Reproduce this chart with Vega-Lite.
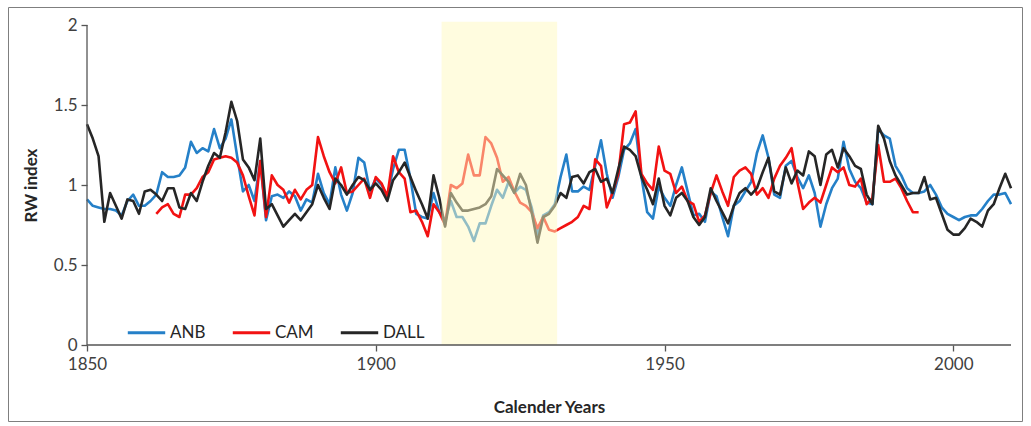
{
"$schema": "https://vega.github.io/schema/vega-lite/v6.json",
"width": 1014, "height": 414,
"autosize": "none",
"padding": {"left": 8, "top": 7, "right": 9, "bottom": 5},
"background": "white",
"config": {"view": {"stroke": "#7f7f7f", "strokeWidth": 1}, "font": "Lato"},
"datasets": {
"shade": [{"start": 1911.4, "end": 1931.4, "bottom": 0, "top": 2.02}],
"series": [
{"year":1850,"series":"ANB","value":0.91},{"year":1851,"series":"ANB","value":0.87},{"year":1852,"series":"ANB","value":0.86},{"year":1853,"series":"ANB","value":0.85},{"year":1854,"series":"ANB","value":0.85},{"year":1855,"series":"ANB","value":0.84},{"year":1856,"series":"ANB","value":0.81},{"year":1857,"series":"ANB","value":0.90},{"year":1858,"series":"ANB","value":0.94},{"year":1859,"series":"ANB","value":0.87},
{"year":1860,"series":"ANB","value":0.87},{"year":1861,"series":"ANB","value":0.90},{"year":1862,"series":"ANB","value":0.94},{"year":1863,"series":"ANB","value":1.08},{"year":1864,"series":"ANB","value":1.05},{"year":1865,"series":"ANB","value":1.05},{"year":1866,"series":"ANB","value":1.06},{"year":1867,"series":"ANB","value":1.11},{"year":1868,"series":"ANB","value":1.27},{"year":1869,"series":"ANB","value":1.20},
{"year":1870,"series":"ANB","value":1.23},{"year":1871,"series":"ANB","value":1.21},{"year":1872,"series":"ANB","value":1.35},{"year":1873,"series":"ANB","value":1.23},{"year":1874,"series":"ANB","value":1.29},{"year":1875,"series":"ANB","value":1.41},{"year":1876,"series":"ANB","value":1.18},{"year":1877,"series":"ANB","value":0.96},{"year":1878,"series":"ANB","value":1.00},{"year":1879,"series":"ANB","value":0.90},
{"year":1880,"series":"ANB","value":1.15},{"year":1881,"series":"ANB","value":0.78},{"year":1882,"series":"ANB","value":0.93},{"year":1883,"series":"ANB","value":0.94},{"year":1884,"series":"ANB","value":0.92},{"year":1885,"series":"ANB","value":0.96},{"year":1886,"series":"ANB","value":0.93},{"year":1887,"series":"ANB","value":0.84},{"year":1888,"series":"ANB","value":0.91},{"year":1889,"series":"ANB","value":0.89},
{"year":1890,"series":"ANB","value":1.07},{"year":1891,"series":"ANB","value":0.95},{"year":1892,"series":"ANB","value":0.88},{"year":1893,"series":"ANB","value":1.11},{"year":1894,"series":"ANB","value":0.94},{"year":1895,"series":"ANB","value":0.84},{"year":1896,"series":"ANB","value":0.95},{"year":1897,"series":"ANB","value":1.17},{"year":1898,"series":"ANB","value":1.14},{"year":1899,"series":"ANB","value":0.96},
{"year":1900,"series":"ANB","value":1.04},{"year":1901,"series":"ANB","value":1.00},{"year":1902,"series":"ANB","value":0.93},{"year":1903,"series":"ANB","value":1.10},{"year":1904,"series":"ANB","value":1.22},{"year":1905,"series":"ANB","value":1.22},{"year":1906,"series":"ANB","value":1.04},{"year":1907,"series":"ANB","value":0.82},{"year":1908,"series":"ANB","value":0.80},{"year":1909,"series":"ANB","value":0.79},
{"year":1910,"series":"ANB","value":0.95},{"year":1911,"series":"ANB","value":0.83},{"year":1912,"series":"ANB","value":0.78},{"year":1913,"series":"ANB","value":0.90},{"year":1914,"series":"ANB","value":0.80},{"year":1915,"series":"ANB","value":0.80},{"year":1916,"series":"ANB","value":0.74},{"year":1917,"series":"ANB","value":0.65},{"year":1918,"series":"ANB","value":0.76},{"year":1919,"series":"ANB","value":0.76},
{"year":1920,"series":"ANB","value":0.87},{"year":1921,"series":"ANB","value":0.97},{"year":1922,"series":"ANB","value":0.92},{"year":1923,"series":"ANB","value":1.02},{"year":1924,"series":"ANB","value":0.95},{"year":1925,"series":"ANB","value":0.99},{"year":1926,"series":"ANB","value":0.97},{"year":1927,"series":"ANB","value":0.86},{"year":1928,"series":"ANB","value":0.69},{"year":1929,"series":"ANB","value":0.81},
{"year":1930,"series":"ANB","value":0.83},{"year":1931,"series":"ANB","value":0.88},{"year":1932,"series":"ANB","value":1.05},{"year":1933,"series":"ANB","value":1.19},{"year":1934,"series":"ANB","value":0.96},{"year":1935,"series":"ANB","value":0.96},{"year":1936,"series":"ANB","value":0.99},{"year":1937,"series":"ANB","value":0.97},{"year":1938,"series":"ANB","value":1.12},{"year":1939,"series":"ANB","value":1.28},
{"year":1940,"series":"ANB","value":1.07},{"year":1941,"series":"ANB","value":0.92},{"year":1942,"series":"ANB","value":1.05},{"year":1943,"series":"ANB","value":1.22},{"year":1944,"series":"ANB","value":1.26},{"year":1945,"series":"ANB","value":1.35},{"year":1946,"series":"ANB","value":1.05},{"year":1947,"series":"ANB","value":0.83},{"year":1948,"series":"ANB","value":0.79},{"year":1949,"series":"ANB","value":0.99},
{"year":1950,"series":"ANB","value":0.92},{"year":1951,"series":"ANB","value":0.87},{"year":1952,"series":"ANB","value":1.00},{"year":1953,"series":"ANB","value":1.11},{"year":1954,"series":"ANB","value":0.96},{"year":1955,"series":"ANB","value":0.81},{"year":1956,"series":"ANB","value":0.82},{"year":1957,"series":"ANB","value":0.77},{"year":1958,"series":"ANB","value":0.96},{"year":1959,"series":"ANB","value":0.93},
{"year":1960,"series":"ANB","value":0.80},{"year":1961,"series":"ANB","value":0.68},{"year":1962,"series":"ANB","value":0.87},{"year":1963,"series":"ANB","value":0.90},{"year":1964,"series":"ANB","value":0.96},{"year":1965,"series":"ANB","value":1.02},{"year":1966,"series":"ANB","value":1.20},{"year":1967,"series":"ANB","value":1.31},{"year":1968,"series":"ANB","value":1.17},{"year":1969,"series":"ANB","value":0.94},
{"year":1970,"series":"ANB","value":0.92},{"year":1971,"series":"ANB","value":1.12},{"year":1972,"series":"ANB","value":1.15},{"year":1973,"series":"ANB","value":1.05},{"year":1974,"series":"ANB","value":0.98},{"year":1975,"series":"ANB","value":1.06},{"year":1976,"series":"ANB","value":0.95},{"year":1977,"series":"ANB","value":0.74},{"year":1978,"series":"ANB","value":0.88},{"year":1979,"series":"ANB","value":0.98},
{"year":1980,"series":"ANB","value":1.04},{"year":1981,"series":"ANB","value":1.27},{"year":1982,"series":"ANB","value":1.10},{"year":1983,"series":"ANB","value":1.02},{"year":1984,"series":"ANB","value":0.98},{"year":1985,"series":"ANB","value":0.89},{"year":1986,"series":"ANB","value":0.88},{"year":1987,"series":"ANB","value":1.35},{"year":1988,"series":"ANB","value":1.31},{"year":1989,"series":"ANB","value":1.29},
{"year":1990,"series":"ANB","value":1.12},{"year":1991,"series":"ANB","value":1.06},{"year":1992,"series":"ANB","value":0.98},{"year":1993,"series":"ANB","value":0.95},{"year":1994,"series":"ANB","value":0.95},{"year":1995,"series":"ANB","value":0.96},{"year":1996,"series":"ANB","value":1.00},{"year":1997,"series":"ANB","value":0.94},{"year":1998,"series":"ANB","value":0.86},{"year":1999,"series":"ANB","value":0.82},
{"year":2000,"series":"ANB","value":0.80},{"year":2001,"series":"ANB","value":0.78},{"year":2002,"series":"ANB","value":0.80},{"year":2003,"series":"ANB","value":0.81},{"year":2004,"series":"ANB","value":0.81},{"year":2005,"series":"ANB","value":0.85},{"year":2006,"series":"ANB","value":0.90},{"year":2007,"series":"ANB","value":0.94},{"year":2008,"series":"ANB","value":0.94},{"year":2009,"series":"ANB","value":0.95},{"year":2010,"series":"ANB","value":0.88},
{"year":1862,"series":"CAM","value":0.82},{"year":1863,"series":"CAM","value":0.86},{"year":1864,"series":"CAM","value":0.88},{"year":1865,"series":"CAM","value":0.82},{"year":1866,"series":"CAM","value":0.80},{"year":1867,"series":"CAM","value":0.94},{"year":1868,"series":"CAM","value":0.94},{"year":1869,"series":"CAM","value":0.98},
{"year":1870,"series":"CAM","value":1.05},{"year":1871,"series":"CAM","value":1.08},{"year":1872,"series":"CAM","value":1.16},{"year":1873,"series":"CAM","value":1.17},{"year":1874,"series":"CAM","value":1.18},{"year":1875,"series":"CAM","value":1.17},{"year":1876,"series":"CAM","value":1.14},{"year":1877,"series":"CAM","value":1.06},{"year":1878,"series":"CAM","value":0.93},{"year":1879,"series":"CAM","value":0.81},
{"year":1880,"series":"CAM","value":1.15},{"year":1881,"series":"CAM","value":0.80},{"year":1882,"series":"CAM","value":1.06},{"year":1883,"series":"CAM","value":1.00},{"year":1884,"series":"CAM","value":0.97},{"year":1885,"series":"CAM","value":0.89},{"year":1886,"series":"CAM","value":0.97},{"year":1887,"series":"CAM","value":0.91},{"year":1888,"series":"CAM","value":0.97},{"year":1889,"series":"CAM","value":1.00},
{"year":1890,"series":"CAM","value":1.30},{"year":1891,"series":"CAM","value":1.18},{"year":1892,"series":"CAM","value":1.08},{"year":1893,"series":"CAM","value":1.01},{"year":1894,"series":"CAM","value":1.11},{"year":1895,"series":"CAM","value":0.95},{"year":1896,"series":"CAM","value":0.96},{"year":1897,"series":"CAM","value":1.00},{"year":1898,"series":"CAM","value":1.04},{"year":1899,"series":"CAM","value":0.92},
{"year":1900,"series":"CAM","value":1.05},{"year":1901,"series":"CAM","value":1.01},{"year":1902,"series":"CAM","value":0.93},{"year":1903,"series":"CAM","value":1.18},{"year":1904,"series":"CAM","value":1.08},{"year":1905,"series":"CAM","value":1.04},{"year":1906,"series":"CAM","value":0.83},{"year":1907,"series":"CAM","value":0.84},{"year":1908,"series":"CAM","value":0.77},{"year":1909,"series":"CAM","value":0.68},
{"year":1910,"series":"CAM","value":0.88},{"year":1911,"series":"CAM","value":0.83},{"year":1912,"series":"CAM","value":0.75},{"year":1913,"series":"CAM","value":1.00},{"year":1914,"series":"CAM","value":0.98},{"year":1915,"series":"CAM","value":1.01},{"year":1916,"series":"CAM","value":1.19},{"year":1917,"series":"CAM","value":1.06},{"year":1918,"series":"CAM","value":1.06},{"year":1919,"series":"CAM","value":1.30},
{"year":1920,"series":"CAM","value":1.26},{"year":1921,"series":"CAM","value":1.17},{"year":1922,"series":"CAM","value":1.02},{"year":1923,"series":"CAM","value":1.05},{"year":1924,"series":"CAM","value":0.96},{"year":1925,"series":"CAM","value":0.89},{"year":1926,"series":"CAM","value":0.87},{"year":1927,"series":"CAM","value":0.83},{"year":1928,"series":"CAM","value":0.73},{"year":1929,"series":"CAM","value":0.80},
{"year":1930,"series":"CAM","value":0.72},{"year":1931,"series":"CAM","value":0.71},{"year":1932,"series":"CAM","value":0.73},{"year":1933,"series":"CAM","value":0.75},{"year":1934,"series":"CAM","value":0.77},{"year":1935,"series":"CAM","value":0.80},{"year":1936,"series":"CAM","value":0.87},{"year":1937,"series":"CAM","value":0.85},{"year":1938,"series":"CAM","value":1.16},{"year":1939,"series":"CAM","value":1.12},
{"year":1940,"series":"CAM","value":0.86},{"year":1941,"series":"CAM","value":0.95},{"year":1942,"series":"CAM","value":1.07},{"year":1943,"series":"CAM","value":1.38},{"year":1944,"series":"CAM","value":1.39},{"year":1945,"series":"CAM","value":1.46},{"year":1946,"series":"CAM","value":1.07},{"year":1947,"series":"CAM","value":1.01},{"year":1948,"series":"CAM","value":0.97},{"year":1949,"series":"CAM","value":1.24},
{"year":1950,"series":"CAM","value":1.09},{"year":1951,"series":"CAM","value":1.07},{"year":1952,"series":"CAM","value":0.95},{"year":1953,"series":"CAM","value":0.99},{"year":1954,"series":"CAM","value":0.90},{"year":1955,"series":"CAM","value":0.88},{"year":1956,"series":"CAM","value":0.77},{"year":1957,"series":"CAM","value":0.81},{"year":1958,"series":"CAM","value":0.95},{"year":1959,"series":"CAM","value":1.06},
{"year":1960,"series":"CAM","value":0.96},{"year":1961,"series":"CAM","value":0.87},{"year":1962,"series":"CAM","value":1.05},{"year":1963,"series":"CAM","value":1.09},{"year":1964,"series":"CAM","value":1.11},{"year":1965,"series":"CAM","value":1.07},{"year":1966,"series":"CAM","value":0.94},{"year":1967,"series":"CAM","value":0.98},{"year":1968,"series":"CAM","value":0.92},{"year":1969,"series":"CAM","value":1.04},
{"year":1970,"series":"CAM","value":1.12},{"year":1971,"series":"CAM","value":1.17},{"year":1972,"series":"CAM","value":1.23},{"year":1973,"series":"CAM","value":1.02},{"year":1974,"series":"CAM","value":0.85},{"year":1975,"series":"CAM","value":0.89},{"year":1976,"series":"CAM","value":0.92},{"year":1977,"series":"CAM","value":0.89},{"year":1978,"series":"CAM","value":1.00},{"year":1979,"series":"CAM","value":1.11},
{"year":1980,"series":"CAM","value":1.08},{"year":1981,"series":"CAM","value":1.11},{"year":1982,"series":"CAM","value":1.00},{"year":1983,"series":"CAM","value":0.99},{"year":1984,"series":"CAM","value":1.04},{"year":1985,"series":"CAM","value":0.88},{"year":1986,"series":"CAM","value":0.92},{"year":1987,"series":"CAM","value":1.25},{"year":1988,"series":"CAM","value":1.02},{"year":1989,"series":"CAM","value":1.02},
{"year":1990,"series":"CAM","value":1.04},{"year":1991,"series":"CAM","value":0.98},{"year":1992,"series":"CAM","value":0.90},{"year":1993,"series":"CAM","value":0.83},{"year":1994,"series":"CAM","value":0.83},
{"year":1850,"series":"DALL","value":1.38},{"year":1851,"series":"DALL","value":1.29},{"year":1852,"series":"DALL","value":1.18},{"year":1853,"series":"DALL","value":0.77},{"year":1854,"series":"DALL","value":0.95},{"year":1855,"series":"DALL","value":0.87},{"year":1856,"series":"DALL","value":0.79},{"year":1857,"series":"DALL","value":0.91},{"year":1858,"series":"DALL","value":0.90},{"year":1859,"series":"DALL","value":0.82},
{"year":1860,"series":"DALL","value":0.96},{"year":1861,"series":"DALL","value":0.97},{"year":1862,"series":"DALL","value":0.94},{"year":1863,"series":"DALL","value":0.90},{"year":1864,"series":"DALL","value":0.98},{"year":1865,"series":"DALL","value":0.98},{"year":1866,"series":"DALL","value":0.86},{"year":1867,"series":"DALL","value":0.85},{"year":1868,"series":"DALL","value":0.95},{"year":1869,"series":"DALL","value":0.90},
{"year":1870,"series":"DALL","value":1.02},{"year":1871,"series":"DALL","value":1.12},{"year":1872,"series":"DALL","value":1.20},{"year":1873,"series":"DALL","value":1.17},{"year":1874,"series":"DALL","value":1.33},{"year":1875,"series":"DALL","value":1.52},{"year":1876,"series":"DALL","value":1.40},{"year":1877,"series":"DALL","value":1.16},{"year":1878,"series":"DALL","value":1.11},{"year":1879,"series":"DALL","value":1.03},
{"year":1880,"series":"DALL","value":1.29},{"year":1881,"series":"DALL","value":0.85},{"year":1882,"series":"DALL","value":0.88},{"year":1883,"series":"DALL","value":0.81},{"year":1884,"series":"DALL","value":0.74},{"year":1885,"series":"DALL","value":0.78},{"year":1886,"series":"DALL","value":0.82},{"year":1887,"series":"DALL","value":0.78},{"year":1888,"series":"DALL","value":0.83},{"year":1889,"series":"DALL","value":0.88},
{"year":1890,"series":"DALL","value":1.00},{"year":1891,"series":"DALL","value":0.92},{"year":1892,"series":"DALL","value":0.85},{"year":1893,"series":"DALL","value":1.04},{"year":1894,"series":"DALL","value":1.00},{"year":1895,"series":"DALL","value":0.94},{"year":1896,"series":"DALL","value":1.00},{"year":1897,"series":"DALL","value":1.05},{"year":1898,"series":"DALL","value":1.03},{"year":1899,"series":"DALL","value":0.97},
{"year":1900,"series":"DALL","value":1.01},{"year":1901,"series":"DALL","value":0.97},{"year":1902,"series":"DALL","value":0.90},{"year":1903,"series":"DALL","value":1.03},{"year":1904,"series":"DALL","value":1.08},{"year":1905,"series":"DALL","value":1.14},{"year":1906,"series":"DALL","value":1.05},{"year":1907,"series":"DALL","value":0.96},{"year":1908,"series":"DALL","value":0.88},{"year":1909,"series":"DALL","value":0.79},
{"year":1910,"series":"DALL","value":1.06},{"year":1911,"series":"DALL","value":0.92},{"year":1912,"series":"DALL","value":0.74},{"year":1913,"series":"DALL","value":0.95},{"year":1914,"series":"DALL","value":0.89},{"year":1915,"series":"DALL","value":0.84},{"year":1916,"series":"DALL","value":0.84},{"year":1917,"series":"DALL","value":0.85},{"year":1918,"series":"DALL","value":0.86},{"year":1919,"series":"DALL","value":0.88},
{"year":1920,"series":"DALL","value":0.93},{"year":1921,"series":"DALL","value":1.10},{"year":1922,"series":"DALL","value":1.06},{"year":1923,"series":"DALL","value":1.02},{"year":1924,"series":"DALL","value":0.95},{"year":1925,"series":"DALL","value":1.07},{"year":1926,"series":"DALL","value":1.00},{"year":1927,"series":"DALL","value":0.83},{"year":1928,"series":"DALL","value":0.64},{"year":1929,"series":"DALL","value":0.80},
{"year":1930,"series":"DALL","value":0.82},{"year":1931,"series":"DALL","value":0.87},{"year":1932,"series":"DALL","value":0.95},{"year":1933,"series":"DALL","value":0.92},{"year":1934,"series":"DALL","value":1.05},{"year":1935,"series":"DALL","value":1.06},{"year":1936,"series":"DALL","value":1.01},{"year":1937,"series":"DALL","value":1.08},{"year":1938,"series":"DALL","value":1.10},{"year":1939,"series":"DALL","value":1.02},
{"year":1940,"series":"DALL","value":1.04},{"year":1941,"series":"DALL","value":0.95},{"year":1942,"series":"DALL","value":1.10},{"year":1943,"series":"DALL","value":1.24},{"year":1944,"series":"DALL","value":1.22},{"year":1945,"series":"DALL","value":1.18},{"year":1946,"series":"DALL","value":1.05},{"year":1947,"series":"DALL","value":0.97},{"year":1948,"series":"DALL","value":0.88},{"year":1949,"series":"DALL","value":1.04},
{"year":1950,"series":"DALL","value":0.87},{"year":1951,"series":"DALL","value":0.81},{"year":1952,"series":"DALL","value":0.92},{"year":1953,"series":"DALL","value":0.95},{"year":1954,"series":"DALL","value":0.90},{"year":1955,"series":"DALL","value":0.80},{"year":1956,"series":"DALL","value":0.75},{"year":1957,"series":"DALL","value":0.80},{"year":1958,"series":"DALL","value":0.98},{"year":1959,"series":"DALL","value":0.90},
{"year":1960,"series":"DALL","value":0.83},{"year":1961,"series":"DALL","value":0.76},{"year":1962,"series":"DALL","value":0.87},{"year":1963,"series":"DALL","value":0.95},{"year":1964,"series":"DALL","value":0.98},{"year":1965,"series":"DALL","value":0.94},{"year":1966,"series":"DALL","value":0.98},{"year":1967,"series":"DALL","value":1.08},{"year":1968,"series":"DALL","value":1.17},{"year":1969,"series":"DALL","value":0.96},
{"year":1970,"series":"DALL","value":0.94},{"year":1971,"series":"DALL","value":1.11},{"year":1972,"series":"DALL","value":1.01},{"year":1973,"series":"DALL","value":1.09},{"year":1974,"series":"DALL","value":1.06},{"year":1975,"series":"DALL","value":1.21},{"year":1976,"series":"DALL","value":1.18},{"year":1977,"series":"DALL","value":1.00},{"year":1978,"series":"DALL","value":1.19},{"year":1979,"series":"DALL","value":1.22},
{"year":1980,"series":"DALL","value":1.11},{"year":1981,"series":"DALL","value":1.23},{"year":1982,"series":"DALL","value":1.18},{"year":1983,"series":"DALL","value":1.12},{"year":1984,"series":"DALL","value":1.10},{"year":1985,"series":"DALL","value":0.94},{"year":1986,"series":"DALL","value":0.88},{"year":1987,"series":"DALL","value":1.37},{"year":1988,"series":"DALL","value":1.29},{"year":1989,"series":"DALL","value":1.15},
{"year":1990,"series":"DALL","value":1.06},{"year":1991,"series":"DALL","value":1.00},{"year":1992,"series":"DALL","value":0.94},{"year":1993,"series":"DALL","value":0.95},{"year":1994,"series":"DALL","value":0.95},{"year":1995,"series":"DALL","value":1.05},{"year":1996,"series":"DALL","value":0.91},{"year":1997,"series":"DALL","value":0.92},{"year":1998,"series":"DALL","value":0.82},{"year":1999,"series":"DALL","value":0.72},
{"year":2000,"series":"DALL","value":0.69},{"year":2001,"series":"DALL","value":0.69},{"year":2002,"series":"DALL","value":0.73},{"year":2003,"series":"DALL","value":0.79},{"year":2004,"series":"DALL","value":0.77},{"year":2005,"series":"DALL","value":0.74},{"year":2006,"series":"DALL","value":0.84},{"year":2007,"series":"DALL","value":0.88},{"year":2008,"series":"DALL","value":0.98},{"year":2009,"series":"DALL","value":1.07},{"year":2010,"series":"DALL","value":0.98}
]
},
"layer": [
{
"data": {"name": "series"},
"mark": {"type": "line", "strokeWidth": 2.6, "strokeJoin": "round"},
"encoding": {
"x": {"field": "year", "type": "quantitative",
"scale": {"domain": [1836.32, 2011.9], "nice": false, "zero": false},
"axis": {"values": [1850, 1900, 1950, 2000], "format": "d", "offset": -76, "domain": false, "grid": false,
"tickSize": 6, "tickColor": "#555555", "tickWidth": 1.3, "labelFontSize": 17, "labelColor": "#404040", "labelPadding": 5, "labelFlush": false,
"title": "Calender Years", "titleFontSize": 17, "titleFontWeight": "bold", "titleColor": "#262626",
"titleX": 541, "titleY": 62, "titleAlign": "center", "titleBaseline": "middle"}},
"y": {"field": "value", "type": "quantitative",
"scale": {"domain": [-0.475, 2.1125], "nice": false, "zero": false},
"axis": {"values": [0, 0.5, 1, 1.5, 2], "format": "~g", "offset": -79, "domain": false, "grid": false,
"tickSize": 6, "tickColor": "#555555", "tickWidth": 1.3, "labelFontSize": 17, "labelColor": "#404040", "labelPadding": 4, "labelFlush": false,
"title": "RW index", "titleFontSize": 17, "titleFontWeight": "bold", "titleColor": "#262626",
"titleX": -56, "titleY": 178, "titleAlign": "center", "titleBaseline": "middle", "titleAngle": 270}},
"color": {"field": "series", "type": "nominal",
"scale": {"domain": ["ANB", "CAM", "DALL"], "range": ["#2580c8", "#f21212", "#262626"]},
"legend": {"orient": "none", "legendX": 118, "legendY": 305, "direction": "horizontal", "title": null,
"symbolType": "stroke", "symbolSize": 1400, "symbolStrokeWidth": 3, "labelFontSize": 17, "labelColor": "#262626",
"labelOffset": 3, "columnPadding": 20, "padding": 0}}
}
},
{
"data": {"name": "shade"},
"mark": {"type": "rect", "color": "#fffac0", "opacity": 0.5},
"encoding": {
"x": {"field": "start", "type": "quantitative"}, "x2": {"field": "end"},
"y": {"field": "bottom", "type": "quantitative"}, "y2": {"field": "top"}
}
},
{
"data": {"values": [{}]},
"mark": {"type": "rule", "color": "#555555", "strokeWidth": 1.3},
"encoding": {"x": {"datum": 1850}, "y": {"datum": 0}, "y2": {"datum": 2}}
},
{
"data": {"values": [{}]},
"mark": {"type": "rule", "color": "#555555", "strokeWidth": 1.3},
"encoding": {"y": {"datum": 0}, "x": {"datum": 1850}, "x2": {"datum": 2010}}
}
]
}
